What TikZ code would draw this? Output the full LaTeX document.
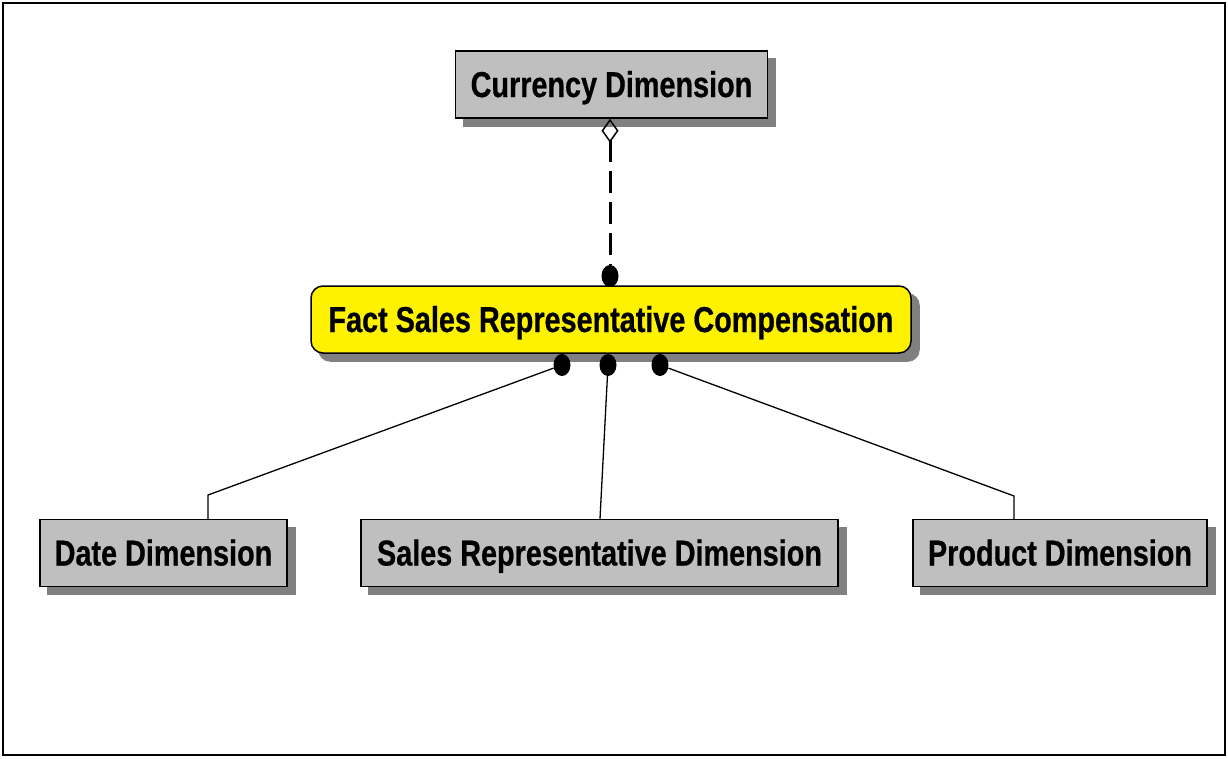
\documentclass[tikz,border=0pt]{standalone}
\usepackage{fontspec}
\newfontfamily\erdfont{Liberation Sans}[FakeStretch=0.8,FakeBold=0.6]
\usetikzlibrary{arrows.meta,shapes.geometric}
\pgfdeclarelayer{shade}
\pgfsetlayers{shade,main}
\tikzset{
  dimbox/.style={draw=black,line width=1.5pt,fill=black!25,minimum height=67pt,
    inner sep=0pt,text height=30pt,text depth=5pt,
    font=\erdfont\bfseries\fontsize{36}{36}\selectfont},
  factbox/.style={dimbox,fill=yellow,rounded corners=12pt},
  shadow/.style={fill=black!50},
  link/.style={line width=1.3pt},
  blob/.style={ellipse,fill=black,inner sep=0pt,minimum width=17pt,minimum height=22pt},
}
\begin{document}
\begin{tikzpicture}[x=1pt,y=-1pt]
  \useasboundingbox (0,0) rectangle (1228,758);
  \draw[line width=1.5pt] (3,3) rectangle (1225,755);
  \draw
    (611.5,84.5) node[dimbox,minimum width=312pt] (currency){Currency Dimension}
    (611,319.5) node[factbox,minimum width=600pt] (fact){Fact Sales Representative Compensation}
    (163.5,553) node[dimbox,minimum width=247pt] (date){Date Dimension}
    (599.5,553) node[dimbox,minimum width=477pt] (salesrep){Sales Representative Dimension}
    (1060,553) node[dimbox,minimum width=294pt] (product){Product Dimension};
  % drop shadows
  \begin{pgfonlayer}{shade}
    \foreach \n in {currency,date,salesrep,product}
      \fill[shadow] ([shift={(8pt,-8pt)}]\n.north west) rectangle ([shift={(8pt,-8pt)}]\n.south east);
    \fill[shadow,rounded corners=12pt] ([shift={(8pt,-8pt)}]fact.north west) rectangle ([shift={(8pt,-8pt)}]fact.south east);
  \end{pgfonlayer}
  % connector ends
  \draw
    (610,276) node[blob] (factdot){}
    (562,365) node[blob] (datedot){}
    (608,365) node[blob] (repdot){}
    (660,365) node[blob] (productdot){};
  \coordinate (datebend) at (208,495);
  \coordinate (productbend) at (1014,496);
  \begin{scope}[link]
    \draw[{Diamond[open,length=24pt,width=17pt,line width=1.5pt]}-,line width=3pt,dash pattern=on 22pt off 9pt]
      (currency.south -| factdot) -- (factdot);
    \draw (datedot) -- (datebend) -- (date.north -| datebend);
    \draw (repdot) -- (salesrep.north -| 600,0);
    \draw (productdot) -- (productbend) -- (product.north -| productbend);
  \end{scope}
\end{tikzpicture}
\end{document}
